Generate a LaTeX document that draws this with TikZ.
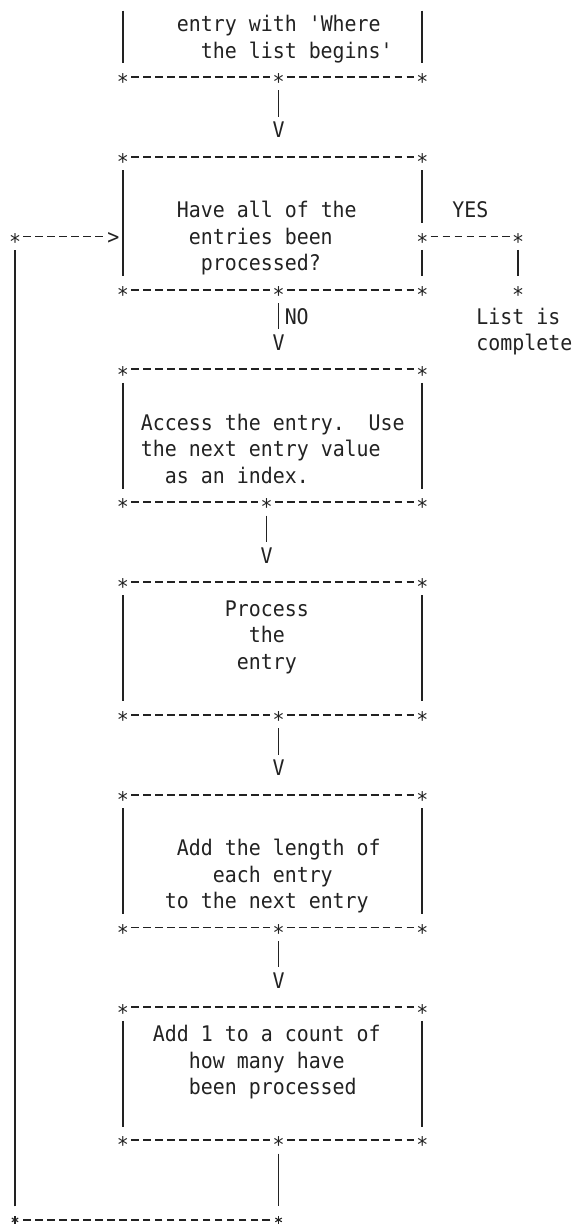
\documentclass[tikz,border=0pt]{standalone}
\usepackage{fontspec}
\newfontfamily\monofam[FakeStretch=0.926]{DejaVu Sans Mono}
\definecolor{ink}{HTML}{222222}
\tikzset{
  cellfont/.style={font=\monofam\fontsize{21.5pt}{26.58pt}\selectfont},
  glyph/.style={cellfont, inner sep=0pt, text=ink, anchor=center, minimum width=11.98pt},
  star/.style={glyph, text height=26.04pt, text depth=0.54pt},
  drawnstar/.style={inner sep=0pt, minimum width=11.98pt, minimum height=26.58pt, anchor=center,
    path picture={\foreach \a in {90,30,150}{\draw[draw=ink, line width=1.1pt]
      ([shift={(\a:3.7pt)}]path picture bounding box.center) --
      ([shift={(\a+180:3.7pt)}]path picture bounding box.center);}}},
  vhead/.style={glyph, text height=21.13pt, text depth=5.45pt},
  lbl/.style={cellfont, inner sep=0pt, text=ink, anchor=west, text height=21.13pt, text depth=5.45pt, xshift=-5.99pt},
  bar/.style={draw=ink, line width=1.7pt},
  dashrun/.style={draw=ink, line width=1.8pt, dash pattern=on 7.8pt off 4.18pt, shorten <=2.09pt, shorten >=2.09pt},
}
\begin{document}
\begin{tikzpicture}[x=11.98pt, y=-26.58pt]
\useasboundingbox[fill=white] (-15pt,23.8pt) rectangle (561pt,-1200.2pt);

% ---- Box 0 (top, cut off) ----
\coordinate (B0tl) at (9,-0.5);
\coordinate (B0tr) at (34,-0.5);
\node[star] (B0bl) at (9,2) {*};
\node[star] (B0bm) at (22,2) {*};
\node[star] (B0br) at (34,2) {*};
\draw[bar] (B0tl) -- (B0bl);
\draw[bar] (B0tr) -- (B0br);
\draw[dashrun] (B0bl) -- (B0bm);
\draw[dashrun] (B0bm) -- (B0br);
\node[lbl] (B0t1) at (14,0) {entry with 'Where};
\node[lbl] (B0t2) at (16,1) {the list begins'};
\node[vhead] (V0) at (22,4) {V};
\draw[bar] (B0bm) -- (V0);

% ---- Box 1 (decision) ----
\node[star] (B1tl) at (9,5) {*};
\node[star] (B1tr) at (34,5) {*};
\node[star] (B1bl) at (9,10) {*};
\node[star] (B1bm) at (22,10) {*};
\node[star] (B1br) at (34,10) {*};
\node[star] (Y1) at (34,8) {*};
\node[star] (Y2) at (42,8) {*};
\node[star] (Y3) at (42,10) {*};
\draw[dashrun] (B1tl) -- (B1tr);
\draw[bar] (B1tl) -- (B1bl);
\draw[bar] (B1tr) -- (Y1);
\draw[bar] (Y1) -- (B1br);
\draw[dashrun] (B1bl) -- (B1bm);
\draw[dashrun] (B1bm) -- (B1br);
\draw[dashrun] (Y1) -- (Y2);
\draw[bar] (Y2) -- (Y3);
\node[lbl] (B1t1) at (14,7) {Have all of the};
\node[lbl] (B1t2) at (15,8) {entries been};
\node[lbl] (B1t3) at (16,9) {processed?};
\node[lbl] (yes) at (37,7) {YES};
\node[lbl] (no) at (23,11) {NO};
\node[lbl] (done1) at (39,11) {List is};
\node[lbl] (done2) at (39,12) {complete};
\node[vhead] (V1) at (22,12) {V};
\draw[bar] (B1bm) -- (V1);

% ---- Box 2 (access) ----
\node[star] (B2tl) at (9,13) {*};
\node[star] (B2tr) at (34,13) {*};
\node[star] (B2bl) at (9,18) {*};
\node[star] (B2bm) at (21,18) {*};
\node[star] (B2br) at (34,18) {*};
\draw[dashrun] (B2tl) -- (B2tr);
\draw[bar] (B2tl) -- (B2bl);
\draw[bar] (B2tr) -- (B2br);
\draw[dashrun] (B2bl) -- (B2bm);
\draw[dashrun] (B2bm) -- (B2br);
\node[lbl] (B2t1) at (11,15) {Access the entry.~~Use};
\node[lbl] (B2t2) at (11,16) {the next entry value};
\node[lbl] (B2t3) at (13,17) {as an index.};
\node[vhead] (V2) at (21,20) {V};
\draw[bar] (B2bm) -- (V2);

% ---- Box 3 (process) ----
\node[star] (B3tl) at (9,21) {*};
\node[star] (B3tr) at (34,21) {*};
\node[star] (B3bl) at (9,26) {*};
\node[star] (B3bm) at (22,26) {*};
\node[star] (B3br) at (34,26) {*};
\draw[dashrun] (B3tl) -- (B3tr);
\draw[bar] (B3tl) -- (B3bl);
\draw[bar] (B3tr) -- (B3br);
\draw[dashrun] (B3bl) -- (B3bm);
\draw[dashrun] (B3bm) -- (B3br);
\node[lbl] (B3t1) at (18,22) {Process};
\node[lbl] (B3t2) at (20,23) {the};
\node[lbl] (B3t3) at (19,24) {entry};
\node[vhead] (V3) at (22,28) {V};
\draw[bar] (B3bm) -- (V3);

% ---- Box 4 (add length) ----
\node[star] (B4tl) at (9,29) {*};
\node[star] (B4tr) at (34,29) {*};
\node[star] (B4bl) at (9,34) {*};
\node[star] (B4bm) at (22,34) {*};
\node[star] (B4br) at (34,34) {*};
\draw[dashrun] (B4tl) -- (B4tr);
\draw[bar] (B4tl) -- (B4bl);
\draw[bar] (B4tr) -- (B4br);
\draw[dashrun] (B4bl) -- (B4bm);
\draw[dashrun] (B4bm) -- (B4br);
\node[lbl] (B4t1) at (14,31) {Add the length of};
\node[lbl] (B4t2) at (17,32) {each entry};
\node[lbl] (B4t3) at (13,33) {to the next entry};
\node[vhead] (V4) at (22,36) {V};
\draw[bar] (B4bm) -- (V4);

% ---- Box 5 (count) ----
\node[star] (B5tl) at (9,37) {*};
\node[star] (B5tr) at (34,37) {*};
\node[star] (B5bl) at (9,42) {*};
\node[star] (B5bm) at (22,42) {*};
\node[star] (B5br) at (34,42) {*};
\draw[dashrun] (B5tl) -- (B5tr);
\draw[bar] (B5tl) -- (B5bl);
\draw[bar] (B5tr) -- (B5br);
\draw[dashrun] (B5bl) -- (B5bm);
\draw[dashrun] (B5bm) -- (B5br);
\node[lbl] (B5t1) at (12,38) {Add 1 to a count of};
\node[lbl] (B5t2) at (15,39) {how many have};
\node[lbl] (B5t3) at (15,40) {been processed};

% ---- loop back ----
\node[drawnstar] (L1) at (22,45) {};
\node[drawnstar] (L2) at (0,45) {};
\node[star] (L3) at (0,8) {*};
\node[vhead, xshift=2.5pt] (gt) at (8,8) {>};
\draw[bar] (B5bm) -- (L1);
\draw[dashrun] (L1) -- (L2);
\draw[bar] (L2) -- (L3);
\draw[dashrun] (L3) -- ([xshift=-2.5pt]gt.west);
\end{tikzpicture}
\end{document}
